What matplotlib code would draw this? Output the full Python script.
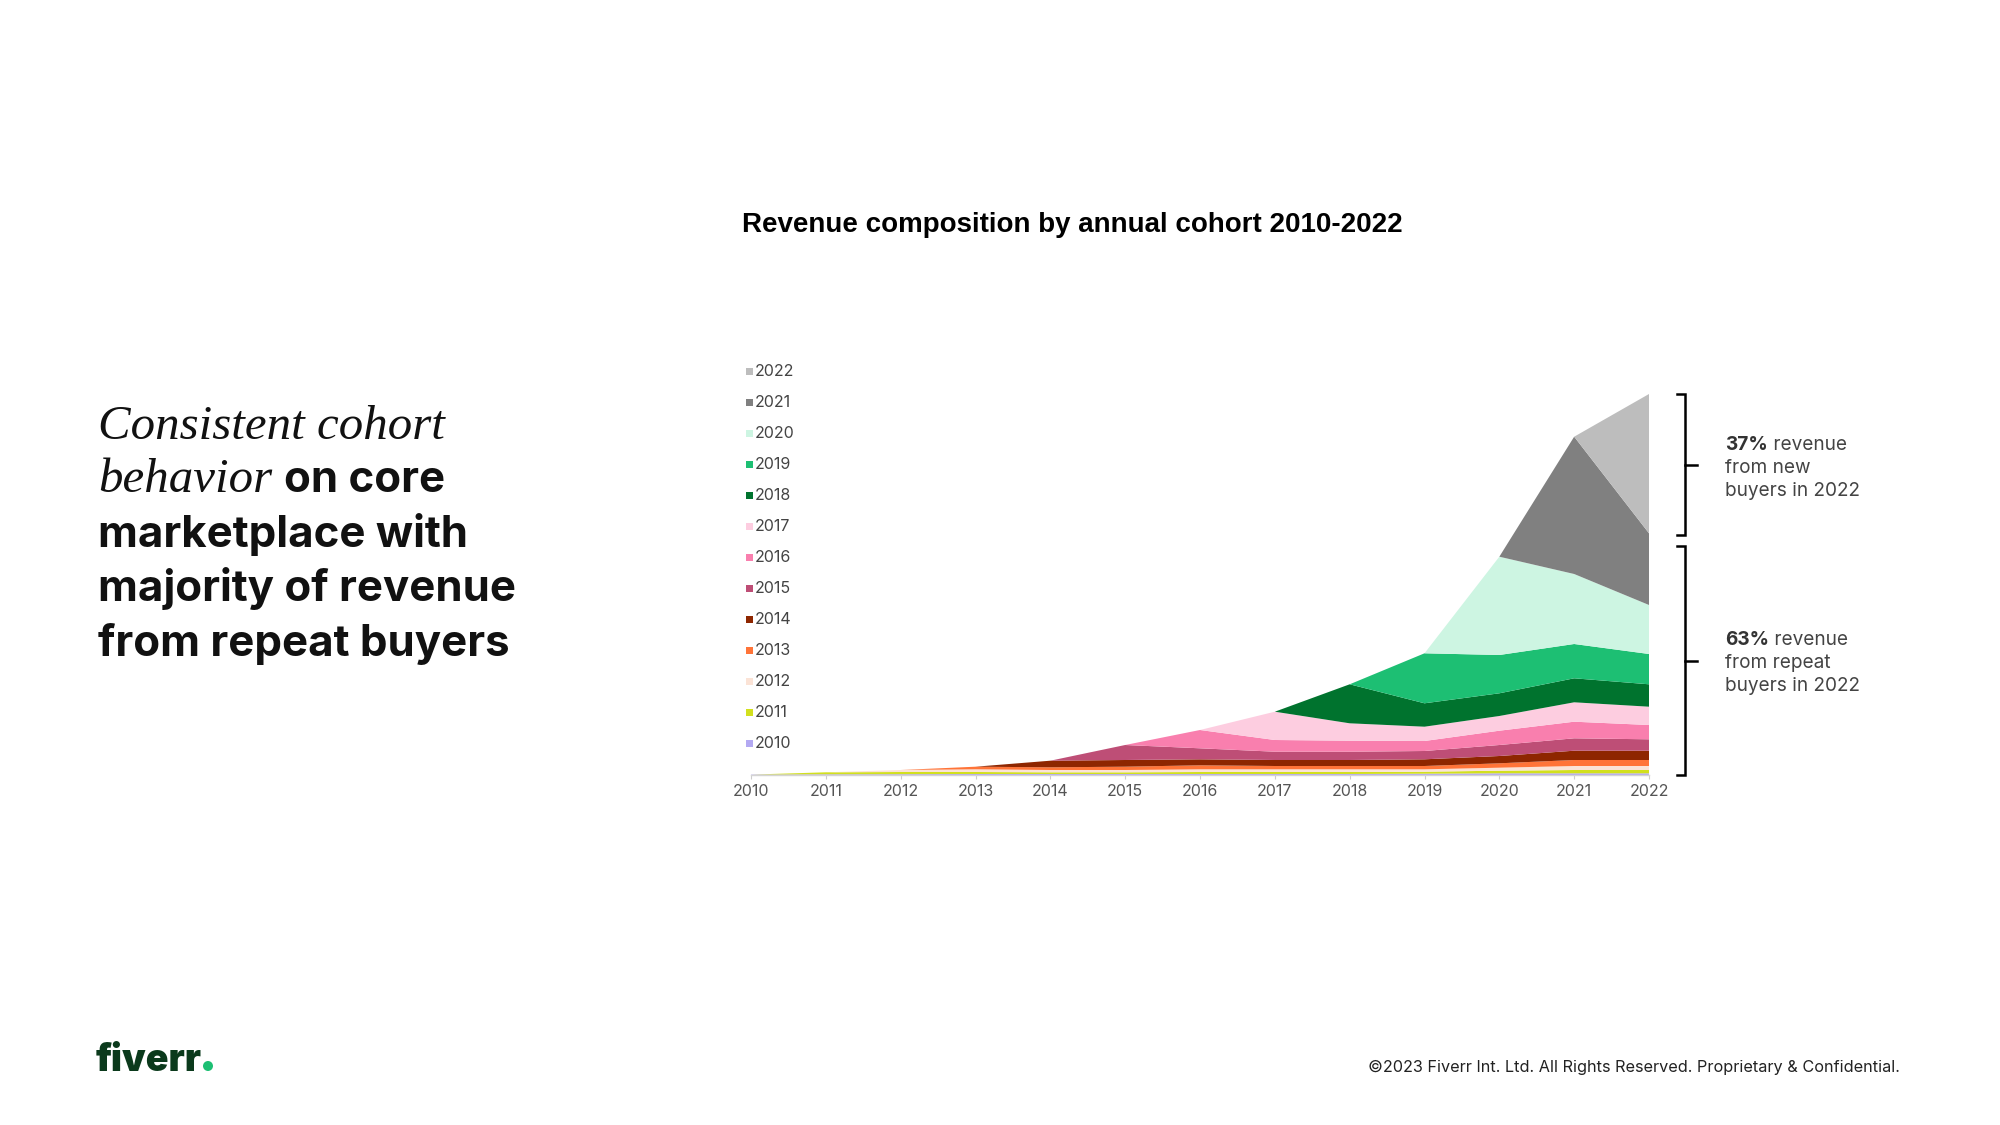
import matplotlib
matplotlib.use("Agg")
import matplotlib.pyplot as plt
from matplotlib.patches import Rectangle, Ellipse

# ---------------- data (revenue by cohort, relative units) ----------------
years = list(range(2010, 2023))
cohort_labels = [str(y) for y in years]

c2010 = [0.4, 0.7, 0.8, 1.0, 1.0, 1.0, 1.0, 1.0, 1.0, 1.3, 1.7, 1.7, 1.7]
c2011 = [0, 2.0, 2.2, 2.0, 1.7, 1.7, 2.0, 2.0, 2.0, 2.0, 2.6, 3.3, 3.3]
c2012 = [0, 0, 2.0, 2.7, 2.3, 2.3, 2.7, 2.7, 2.7, 2.4, 3.0, 4.0, 4.0]
c2013 = [0, 0, 0, 2.6, 2.7, 3.3, 4.0, 3.3, 3.3, 3.3, 4.4, 6.0, 6.0]
c2014 = [0, 0, 0, 0, 6.6, 6.7, 6.0, 6.0, 6.0, 6.7, 7.3, 9.3, 9.3]
c2015 = [0, 0, 0, 0, 0, 15.0, 11.0, 8.3, 8.3, 8.3, 11.0, 12.4, 11.4]
c2016 = [0, 0, 0, 0, 0, 0, 18.3, 11.7, 11.0, 10.0, 14.3, 16.6, 14.3]
c2017 = [0, 0, 0, 0, 0, 0, 0, 28.3, 17.4, 14.3, 14.7, 19.4, 18.3]
c2018 = [0, 0, 0, 0, 0, 0, 0, 0, 39.0, 23.4, 22.7, 24.0, 22.4]
c2019 = [0, 0, 0, 0, 0, 0, 0, 0, 0, 50.0, 38.3, 34.3, 30.3]
c2020 = [0, 0, 0, 0, 0, 0, 0, 0, 0, 0, 98.3, 70.0, 49.0]
c2021 = [0, 0, 0, 0, 0, 0, 0, 0, 0, 0, 0, 137.3, 71.7]
c2022 = [0, 0, 0, 0, 0, 0, 0, 0, 0, 0, 0, 0, 139.3]

cohorts = [c2010, c2011, c2012, c2013, c2014, c2015, c2016,
           c2017, c2018, c2019, c2020, c2021, c2022]

cohort_colors = ["#b3a9f2", "#d2e01e", "#fbe3d6", "#ff7438", "#8e2600",
                 "#be4e76", "#f97fae", "#fdcde0", "#00732e", "#1dbf73",
                 "#cdf5e2", "#808080", "#bdbdbd"]

title = "Revenue composition by annual cohort 2010-2022"
new_pct = "37%"
repeat_pct = "63%"

# ---------------- figure ----------------
W, H = 2000, 1125
fig = plt.figure(figsize=(20, 11.25), dpi=100)
fig.patch.set_facecolor("white")

def fx(px):
    return px / W

def fy(py):
    return 1 - py / H

ax = fig.add_axes([fx(751), (H - 775) / H, 898 / W, 400 / H])
ax.stackplot(years, *cohorts, colors=cohort_colors, linewidth=0)
ax.set_xlim(2010, 2022)
ax.set_ylim(0, 400)
for s in ["top", "right", "left"]:
    ax.spines[s].set_visible(False)
ax.spines["bottom"].set_color("#d4d4d4")
ax.spines["bottom"].set_linewidth(1.0)
ax.set_yticks([])
ax.set_xticks(years)
ax.set_xticklabels(cohort_labels, fontsize=11.5, color="#555555", family="Inter")
ax.tick_params(axis="x", length=3, color="#cccccc", pad=3.5)
ax.set_facecolor("none")

# ---------------- legend (manual) ----------------
for i, (lab, col) in enumerate(zip(reversed(cohort_labels), reversed(cohort_colors))):
    yc = 371.5 + i * 31
    fig.add_artist(Rectangle((fx(745.5), fy(yc + 3.5)), 7 / W, 7 / H,
                             transform=fig.transFigure, color=col, lw=0))
    fig.text(fx(755), fy(yc), lab, fontsize=11.5, color="#444444",
             family="Inter", va="center", ha="left")

# ---------------- title ----------------
fig.text(fx(742), fy(225.5), title, fontsize=20, fontweight="bold",
         family="Liberation Sans", va="center", ha="left", color="#000000")

# ---------------- brackets ----------------
total22 = sum(c[-1] for c in cohorts)
repeat22 = total22 - c2022[-1]
xb, xe, xt = 2022.48, 2022.37, 2022.64
def bracket(y0, y1):
    ax.plot([xe, xb, xb, xe], [y1, y1, y0, y0], color="black", lw=1.8,
            clip_on=False, solid_joinstyle="miter")
    ym = (y0 + y1) / 2
    ax.plot([xb, xt], [ym, ym], color="black", lw=1.8, clip_on=False)
bracket(repeat22 - 2, total22)
bracket(0, repeat22 - 13)

renderer = fig.canvas.get_renderer()

def run_text(x_px, y_px, parts, **common):
    """Draw consecutive text pieces on one baseline."""
    x = x_px
    for txt, kw in parts:
        opts = dict(common)
        opts.update(kw)
        t = fig.text(fx(x), fy(y_px), txt, va="baseline", ha="left", **opts)
        bb = t.get_window_extent(renderer)
        x = x + bb.width
    return x

# ---------------- annotations ----------------
ann_col = "#444444"
ann = dict(fontsize=13.7, family="Inter", color=ann_col)
run_text(1725, 450, [(new_pct, dict(fontweight="bold", color="#333333")),
                     (" revenue", {})], **ann)
fig.text(fx(1725), fy(473), "from new", va="baseline", **ann)
fig.text(fx(1725), fy(496), "buyers in 2022", va="baseline", **ann)
run_text(1725, 645, [(repeat_pct, dict(fontweight="bold", color="#333333")),
                     (" revenue", {})], **ann)
fig.text(fx(1725), fy(668), "from repeat", va="baseline", **ann)
fig.text(fx(1725), fy(691), "buyers in 2022", va="baseline", **ann)

# ---------------- headline ----------------
serif = dict(family="Liberation Serif", style="italic", fontsize=35.2, color="#111111")
bold = dict(family="Inter", fontweight="bold", fontsize=31.5, color="#111111")
fig.text(fx(98), fy(439), "Consistent cohort", va="baseline", **serif)
xend = run_text(98, 492.5, [("behavior", serif)])
fig.text(fx(xend + 12), fy(492.5), "on core", va="baseline", **bold)
fig.text(fx(98), fy(547), "marketplace with", va="baseline", **bold)
fig.text(fx(98), fy(601.5), "majority of revenue", va="baseline", **bold)
fig.text(fx(98), fy(656), "from repeat buyers", va="baseline", **bold)

# ---------------- footer ----------------
logo = fig.text(fx(96), fy(1071), "fiverr", fontsize=27, fontweight="black",
                family="Inter", color="#0b3a1c", va="baseline", ha="left")
lb = logo.get_window_extent(renderer)
fig.add_artist(Ellipse((fx(lb.x1 + 6), fy(1066)), 10 / W, 10 / H,
                       transform=fig.transFigure, color="#1dbf73", lw=0))
fig.text(fx(1900), fy(1067.5), "\u00a92023 Fiverr Int. Ltd. All Rights Reserved. Proprietary & Confidential.",
         fontsize=11.7, family="Inter", color="#222222", ha="right", va="center")

fig.savefig("out.png", dpi=100, facecolor="white")
